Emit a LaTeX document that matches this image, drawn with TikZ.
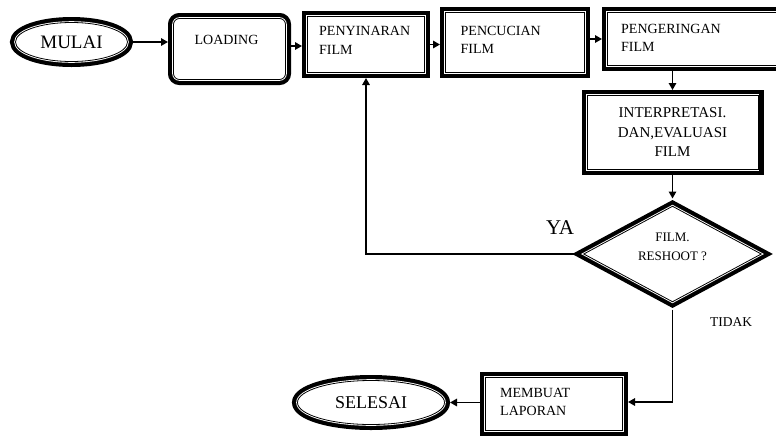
\documentclass[tikz,border=0pt]{standalone}
\usepackage{fontspec}
\setmainfont{Liberation Serif}
\usetikzlibrary{arrows.meta, shapes.geometric, positioning, calc}

\begin{document}
\begin{tikzpicture}[x=1pt, y=-1pt,
	dblline/.style={preaction={draw, line width=11pt}, preaction={fill=white},
		preaction={draw=white, line width=2.6pt}, draw, line width=0.8pt, outer sep=5.5pt},
	procbox/.style={rectangle, dblline, inner sep=0pt},
	termnode/.style={ellipse, dblline, inner sep=0pt},
	decnode/.style={diamond, dblline, inner sep=0pt},
	caption/.style={font=\fontsize{14}{18.5}\selectfont, align=left, inner sep=0pt},
	flow/.style={line width=1.5pt, -{Triangle[length=7pt, width=7.5pt]}}]
	\useasboundingbox (0,0) rectangle (776,437);

	% top row
	\node[termnode, minimum width=112pt, minimum height=39pt,
		font=\fontsize{19}{19}\selectfont] (start) at (71.5,42) {MULAI};
	\node[procbox, rounded corners=6pt, minimum width=112pt, minimum height=61pt,
		label={[caption, anchor=north, xshift=-3pt, yshift=-22pt]north:LOADING}] (load) at (229.5,49) {};
	\node[procbox, minimum width=117pt, minimum height=56pt,
		label={[caption, anchor=north west, xshift=17pt, yshift=-15.5pt]north west:PENYINARAN\\FILM}] (expose) at (366,44.5) {};
	\node[procbox, minimum width=139pt, minimum height=60pt,
		label={[caption, anchor=north west, xshift=20.5pt, yshift=-19pt]north west:PENCUCIAN\\FILM}] (wash) at (515,42.5) {};
	\node[procbox, minimum width=187pt, minimum height=53pt,
		label={[caption, anchor=north west, xshift=19pt, yshift=-17pt]north west:PENGERINGAN\\FILM}] (dry) at (701,39) {};

	% right column
	\node[procbox, minimum width=171pt, minimum height=74pt, align=center,
		font=\fontsize{15}{19.5}\selectfont] (interp) at (672.5,132.5) {INTERPRETASI.\\DAN,EVALUASI\\FILM};
	\node[decnode, minimum width=182pt, minimum height=100pt,
		label={[caption, align=center, font=\fontsize{13}{19}\selectfont, anchor=north, yshift=-34pt]north:FILM.\\RESHOOT ?}] (dec) at (672.5,254) {};
	\node[font=\fontsize{21}{21}\selectfont] (yes) at (560,228) {YA};
	\node[font=\fontsize{13.5}{14}\selectfont] (no) at (731,322) {TIDAK};

	% bottom row
	\node[procbox, minimum width=137pt, minimum height=53pt,
		label={[caption, anchor=north west, xshift=20pt, yshift=-16pt]north west:MEMBUAT\\LAPORAN}] (report) at (554,404) {};
	\node[termnode, minimum width=147pt, minimum height=44pt,
		font=\fontsize{18}{18}\selectfont] (stop) at (371,402.5) {SELESAI};

	% connectors
	\draw[flow] (start.east) -- (start.east -| load.west);
	\draw[flow] ([yshift=3pt]load.east) -- ([yshift=3pt]load.east -| expose.west);
	\draw[flow] (expose.east) -- (expose.east -| wash.west);
	\draw[flow] (dry.west -| wash.east) -- (dry.west);
	\draw[flow] (interp.north |- dry.south) -- (interp.north);
	\draw[flow] (interp.south) -- (dec.north);
	\draw[flow] (dec.west) -| (expose.south);
	\draw[flow] (dec.south) |- ([yshift=2pt]report.east);
	\draw[flow] (stop.east -| report.west) -- (stop.east);
\end{tikzpicture}
\end{document}
